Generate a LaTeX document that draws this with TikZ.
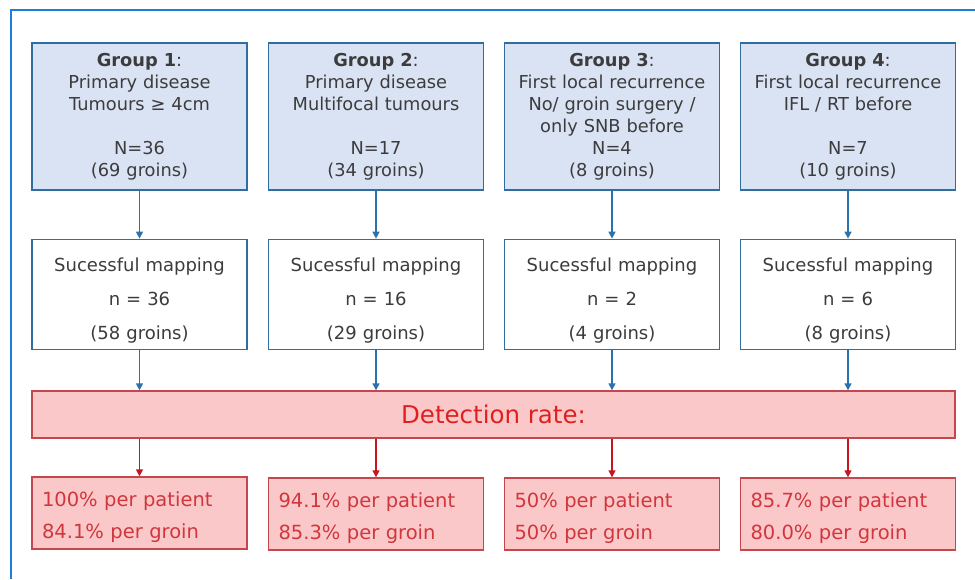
\documentclass[tikz,border=0pt]{standalone}
\usepackage{fontspec}
\setmainfont{DejaVu Sans}
\usetikzlibrary{arrows.meta}

\definecolor{framecol}{HTML}{1E7FD6}
\definecolor{boxblue}{HTML}{2F6E9F}
\definecolor{groupfill}{HTML}{DAE3F3}
\definecolor{arrowblue}{HTML}{2A72AE}
\definecolor{ratefill}{HTML}{FBC8CA}
\definecolor{rateline}{HTML}{C4474D}
\definecolor{ratetext}{HTML}{E0201F}
\definecolor{restext}{HTML}{D0363C}
\definecolor{arrowred}{HTML}{C8141E}
\definecolor{textgray}{HTML}{3C3C3C}

\tikzset{
    groupbox/.style={draw=boxblue, fill=groupfill, line width=1.8pt, text=textgray, text width=215pt, inner xsep=0pt, minimum height=147pt, align=center, font=\fontsize{17.8}{22}\selectfont},
    mapbox/.style={draw=boxblue, fill=white, line width=1.8pt, text=textgray, text width=215pt, inner xsep=0pt, minimum height=110pt, align=center, font=\fontsize{18}{34}\selectfont, execute at begin node={\rule{0pt}{25pt}}},
    resbox/.style={draw=rateline, fill=ratefill, line width=1.4pt, text=restext, text width=195pt, inner xsep=10pt, minimum height=72pt, align=left, font=\fontsize{19.5}{32}\selectfont, execute at begin node={\rule{0pt}{23pt}}},
    bluearrow/.style={draw=arrowblue, line width=1.5pt, -{Triangle[length=7pt, width=7pt]}},
    redarrow/.style={draw=arrowred, line width=1.5pt, -{Triangle[length=7pt, width=7pt]}}
}

\begin{document}
\begin{tikzpicture}[x=1pt, y=-1pt]
    \useasboundingbox (0,0) rectangle (975,579);
    \draw[framecol, line width=2pt] (11,579) -- (11,10) -- (975,10);

    \node[groupbox] (group1) at (139.5, 116.5) {\textbf{Group 1}:\\Primary disease\\Tumours ≥ 4cm\\[22pt]N=36\\(69 groins)};
    \node[groupbox] (group2) at (376, 116.5) {\textbf{Group 2}:\\Primary disease\\Multifocal tumours\\[22pt]N=17\\(34 groins)};
    \node[groupbox] (group3) at (612, 116.5) {\textbf{Group 3}:\\First local recurrence\\No/ groin surgery /\\only SNB before\\N=4\\(8 groins)};
    \node[groupbox] (group4) at (848, 116.5) {\textbf{Group 4}:\\First local recurrence\\IFL / RT before\\[22pt]N=7\\(10 groins)};

    \node[mapbox] (map1) at (139.5, 294.5) {Sucessful mapping\\n = 36\\(58 groins)};
    \node[mapbox] (map2) at (376, 294.5) {Sucessful mapping\\n = 16\\(29 groins)};
    \node[mapbox] (map3) at (612, 294.5) {Sucessful mapping\\n = 2\\(4 groins)};
    \node[mapbox] (map4) at (848, 294.5) {Sucessful mapping\\n = 6\\(8 groins)};

    \node[draw=rateline, fill=ratefill, line width=1.4pt, minimum width=923pt, minimum height=47pt, text=ratetext, font=\fontsize{24.5}{28}\selectfont] (rate) at (493.5, 414.5) {Detection rate:};

    \node[resbox] (res1) at (139.5, 513) {100\% per patient\\84.1\% per groin};
    \node[resbox] (res2) at (376, 514) {94.1\% per patient\\85.3\% per groin};
    \node[resbox] (res3) at (612, 514) {50\% per patient\\50\% per groin};
    \node[resbox] (res4) at (848, 514) {85.7\% per patient\\80.0\% per groin};

    \draw[bluearrow] (group1) -- (map1);
    \draw[bluearrow] (group2) -- (map2);
    \draw[bluearrow] (group3) -- (map3);
    \draw[bluearrow] (group4) -- (map4);

    \draw[bluearrow] (map1) -- (map1 |- rate.north);
    \draw[bluearrow] (map2) -- (map2 |- rate.north);
    \draw[bluearrow] (map3) -- (map3 |- rate.north);
    \draw[bluearrow] (map4) -- (map4 |- rate.north);

    \draw[redarrow] (res1 |- rate.south) -- (res1);
    \draw[redarrow] (res2 |- rate.south) -- (res2);
    \draw[redarrow] (res3 |- rate.south) -- (res3);
    \draw[redarrow] (res4 |- rate.south) -- (res4);
\end{tikzpicture}
\end{document}
